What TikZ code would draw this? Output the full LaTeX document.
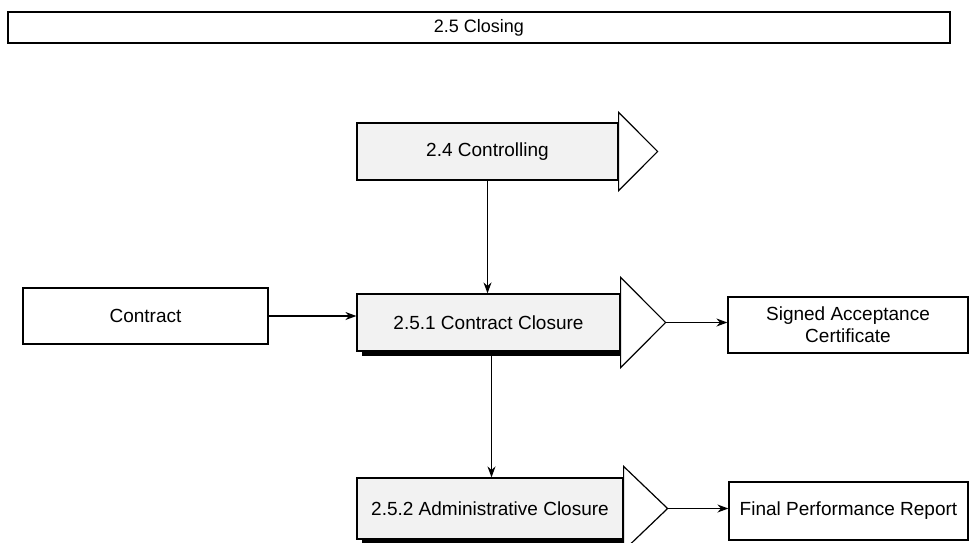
\documentclass[tikz,border=0pt]{standalone}
\usepackage{fontspec}
\setmainfont{Liberation Sans}
\usetikzlibrary{arrows.meta}

\tikzset{
  procbox/.style={draw, line width=1.2pt, fill=gray!10, minimum width=263pt, minimum height=57pt, inner sep=0pt},
  databox/.style={draw, line width=1.2pt, fill=white, inner sep=0pt, align=center},
  procarrow/.style={draw, line width=1.2pt, fill=white},
  flow/.style={-{Stealth[length=11pt,width=8pt]}, line width=1.3pt},
}

\begin{document}
\begin{tikzpicture}[x=1pt, y=-1pt, font=\fontsize{19}{22}\selectfont]
\useasboundingbox (0,0) rectangle (969,542);

%% boxes
\path
(479,27.5) node[databox, minimum width=942pt, minimum height=31pt, font=\fontsize{18}{21}\selectfont](closing) {2.5 Closing}
(487.5,151.5) node[procbox, minimum width=261pt](ctrl) {2.4 Controlling}
(488.5,322.5) node[procbox](ccl) {2.5.1 Contract Closure}
(490,508.5) node[procbox, minimum width=266pt, minimum height=61pt](adm) {2.5.2 Administrative Closure}
(145.5,316) node[databox, minimum width=245pt, minimum height=56pt](contract) {Contract}
(848,325) node[databox, minimum width=240pt, minimum height=56pt](sac) {Signed Acceptance\\Certificate}
(848.5,511) node[databox, minimum width=239pt, minimum height=58pt](fpr) {Final Performance Report};

%% shadows under the closure steps
\fill ([xshift=6pt]ccl.south west) rectangle ([yshift=-4pt]ccl.south east);
\fill ([xshift=6pt]adm.south west) rectangle ([yshift=-4pt]adm.south east);

%% arrow heads of the process boxes
\draw[procarrow] ([yshift=10pt]ctrl.north east) -- ([xshift=39pt]ctrl.east) coordinate(ctrltip)
  -- ([yshift=-10pt]ctrl.south east) -- cycle;
\draw[procarrow] ([yshift=16pt]ccl.north east) -- ([xshift=45pt]ccl.east) coordinate(ccltip)
  -- ([yshift=-16pt]ccl.south east) -- cycle;
\draw[procarrow] ([yshift=11pt]adm.north east) -- ([xshift=44pt]adm.east) coordinate(admtip)
  -- ([yshift=-11pt]adm.south east) -- cycle;

%% flows
\draw[flow] (ctrl.south) -- (ctrl.south |- ccl.north);
\draw[flow] ([xshift=3pt]ccl.south) -- ([xshift=3pt]ccl.south |- adm.north);
\draw[flow] (contract.east) -- (contract.east -| ccl.west);
\draw[flow] (ccltip) -- (ccltip -| sac.west);
\draw[flow] (admtip) -- (admtip -| fpr.west);

\end{tikzpicture}
\end{document}
